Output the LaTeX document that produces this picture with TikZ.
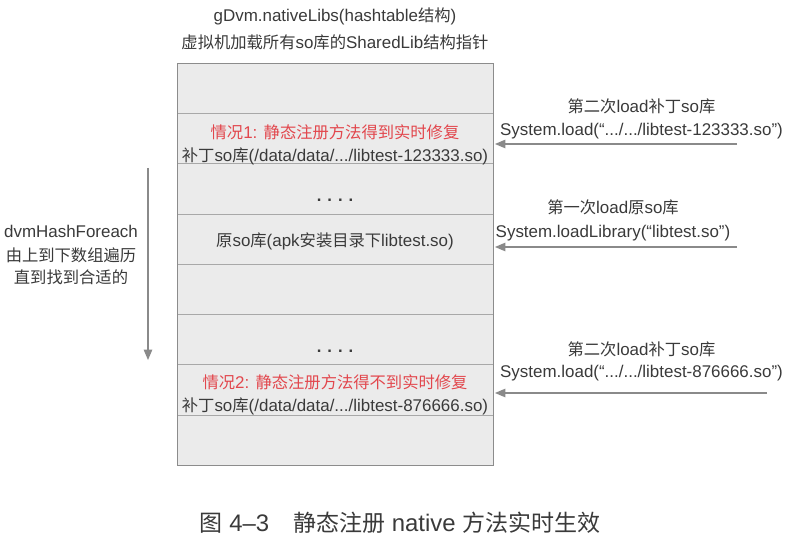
\documentclass[tikz,border=0pt]{standalone}
\usepackage{fontspec}
\setmainfont{Liberation Sans}[Scale=1.04]
\newfontfamily\latinfont{Liberation Sans}[Scale=1.04]
\newfontfamily\cjkfont{Noto Sans CJK SC}
% switch to the CJK font for ideographs
\XeTeXinterchartokenstate=1
\count255="4E00
\loop
  \XeTeXcharclass\count255=1
  \advance\count255 by 1
\ifnum\count255<"A000 \repeat
\XeTeXcharclass`“=0
\XeTeXcharclass`”=0
\XeTeXinterchartoks 0 1 = {\cjkfont}
\XeTeXinterchartoks 4095 1 = {\cjkfont}
\XeTeXinterchartoks 1 0 = {\latinfont}
\XeTeXinterchartoks 1 4095 = {\latinfont}
\usepackage{tikz}
\usetikzlibrary{arrows,positioning}
\definecolor{slotfill}{HTML}{EBEBEB}
\definecolor{slotline}{HTML}{A8A8A8}
\definecolor{frameline}{HTML}{8C8C8C}
\definecolor{casered}{HTML}{E2474D}
\definecolor{textgray}{HTML}{3A3A3A}
\definecolor{arrowgray}{HTML}{8A8A8A}
\tikzset{
    %Define standard arrow tip
    >=triangle 45,
    %Define style for table slots
    slot/.style={
           rectangle,
           draw=slotline, thin,
           fill=slotfill,
           minimum width=316bp,
           minimum height=50.25bp,
           inner sep=0pt,
           outer sep=0pt,
           },
    label/.style={
           font=\fontsize{16.3bp}{24bp}\selectfont,
           text=textgray,
           align=center,
           inner sep=0pt,
           },
    dots/.style={
           font=\fontsize{16bp}{16bp}\selectfont\bfseries,
           text=textgray,
           inner sep=0pt,
           anchor=base,
           },
    % Define arrow style
    pil/.style={
           ->,
           draw=arrowgray,
           line width=1.4bp,
           shorten >=2bp,},
}
\newcommand{\dotrow}{.\hspace{6bp}.\hspace{6bp}.\hspace{6bp}.}
\begin{document}
\begin{tikzpicture}[x=1bp,y=-1bp,node distance=0pt]
\useasboundingbox[fill=white] (0,0) rectangle (800,540);
% hashtable slots
\node[slot](r1) at (335,88.1){};
\node[slot, below=of r1](r2){};
\node[slot, below=of r2](r3){};
\node[slot, below=of r3](r4){};
\node[slot, below=of r4](r5){};
\node[slot, below=of r5](r6){};
\node[slot, below=of r6](r7){};
\node[slot, below=of r7](r8){};
\draw[frameline, thin] (r1.north west) rectangle (r8.south east);
% title
\node[label](title) at (335,28.5){gDvm.nativeLibs(hashtable结构)\\[3bp]虚拟机加载所有so库的SharedLib结构指针};
% slot contents
\node[label](case1) at ([yshift=-6.5bp]r2.center){\textcolor{casered}{情况1: 静态注册方法得到实时修复}\\[-1bp]补丁so库(/data/data/.../libtest-123333.so)};
\node[dots](more1) at ([yshift=-13bp]r3.center){\dotrow};
\node[label](orig) at ([yshift=-2.5bp]r4.center){原so库(apk安装目录下libtest.so)};
\node[dots](more2) at ([yshift=-13bp]r6.center){\dotrow};
\node[label](case2) at ([yshift=-5.5bp]r7.center){\textcolor{casered}{情况2: 静态注册方法得不到实时修复}\\[-1bp]补丁so库(/data/data/.../libtest-876666.so)};
% loading calls
\node[label](load1) at (641.5,119){第二次load补丁so库\\[-1bp]System.load(“.../.../libtest-123333.so”)};
\node[label](load0) at (613,220.5){第一次load原so库\\System.loadLibrary(“libtest.so”)};
\node[label](load2) at (641.5,361.5){第二次load补丁so库\\[-2bp]System.load(“.../.../libtest-876666.so”)};
\coordinate (s1) at (737,144);
\coordinate (s0) at (737,247);
\coordinate (s2) at (767,393);
\path[]
	(s1) edge[pil] (s1 -| r2.east)
	(s0) edge[pil] (s0 -| r4.east)
	(s2) edge[pil] (s2 -| r7.east);
% lookup order
\node[label](walk) at (71,255.5){dvmHashForeach\\由上到下数组遍历\\[-2bp]直到找到合适的};
\coordinate (w0) at (148,168);
\coordinate (w1) at (148,360);
\draw[pil, shorten >=0pt] (w0) -- (w1);
% caption
\node[label, font=\fontsize{23bp}{23bp}\selectfont](caption) at (400,523){图 4–3\quad 静态注册 native 方法实时生效};
\end{tikzpicture}
\end{document}
